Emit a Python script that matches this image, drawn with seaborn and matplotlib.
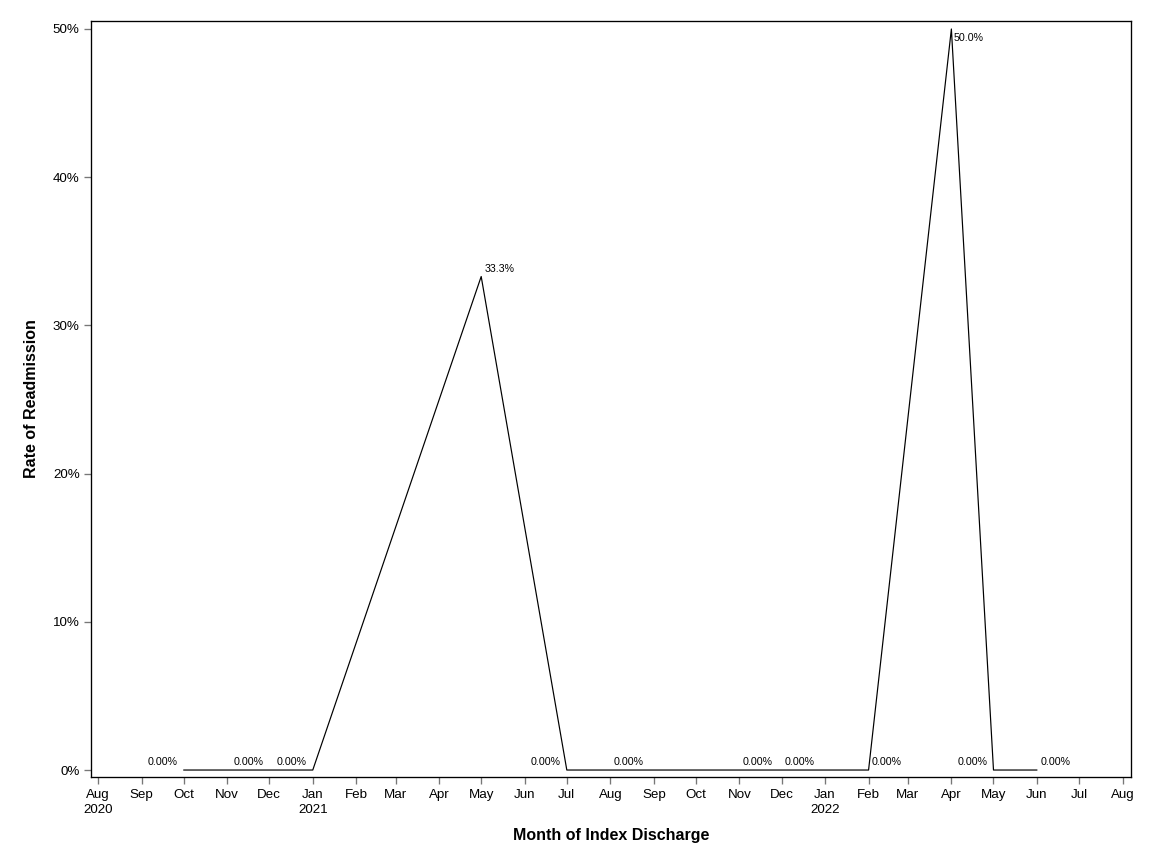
import matplotlib
matplotlib.use("Agg")
from matplotlib import pyplot as plt
from matplotlib.ticker import PercentFormatter
import numpy as np
import pandas as pd
import seaborn as sns

# monthly readmission rate by month of index discharge
months = ["2020-10", "2020-12", "2021-01", "2021-05", "2021-07", "2021-08",
          "2021-11", "2021-12", "2022-02", "2022-04", "2022-05", "2022-06"]
rates = [0.0, 0.0, 0.0, 0.333, 0.0, 0.0, 0.0, 0.0, 0.0, 0.5, 0.0, 0.0]
# which side of the point the value label sits on
label_side = ["left", "left", "left", "right", "left", "right",
              "right", "right", "right", "below", "left", "right"]

tick_months = pd.date_range("2020-08-01", "2022-08-01", freq="MS")

df = pd.DataFrame({"month": pd.to_datetime(months), "rate": rates})

sns.set_style("white")
plt.rcParams["font.family"] = ["Liberation Sans", "DejaVu Sans"]
plt.rcParams["text.color"] = "black"
plt.rcParams["axes.labelcolor"] = "black"

fig = plt.figure(figsize=(12, 9), dpi=96)
ax = fig.add_axes([0.079, 0.1007, 0.9028, 0.875])

sns.lineplot(data=df, x="month", y="rate", color="black", linewidth=0.9, ax=ax)

for m, r, side in zip(df["month"], df["rate"], label_side):
    txt = "0.00%" if r == 0 else f"{r * 100:.1f}%"
    if side == "left":
        ax.annotate(txt, (m, r), xytext=(-4.5, 2), textcoords="offset points",
                    ha="right", va="bottom", fontsize=8, color="black")
    elif side == "right":
        ax.annotate(txt, (m, r), xytext=(2.5, 2), textcoords="offset points",
                    ha="left", va="bottom", fontsize=8, color="black")
    else:
        ax.annotate(txt, (m, r), xytext=(2, -3), textcoords="offset points",
                    ha="left", va="top", fontsize=8, color="black")

ax.set_xlim(pd.Timestamp("2020-07-27"), pd.Timestamp("2022-08-07"))
ax.set_ylim(-0.0047, 0.5054)
ax.set_yticks([0, 0.1, 0.2, 0.3, 0.4, 0.5])
ax.yaxis.set_major_formatter(PercentFormatter(xmax=1, decimals=0))

ax.set_xticks(tick_months)
tlabels = []
for i, t in enumerate(tick_months):
    lab = t.strftime("%b")
    if i == 0 or t.month == 1:
        lab += "\n" + t.strftime("%Y")
    tlabels.append(lab)
ax.set_xticklabels(tlabels, linespacing=1.3)

ax.tick_params(axis="both", which="major", bottom=True, left=True,
               length=5, width=1, color="#777777", labelsize=10,
               labelcolor="black", direction="out")
ax.tick_params(axis="x", pad=4)

for s in ax.spines.values():
    s.set_color("black")
    s.set_linewidth(1)

ax.set_xlabel("Month of Index Discharge", fontsize=12, fontweight="bold", labelpad=9)
ax.set_ylabel("Rate of Readmission", fontsize=12, fontweight="bold", labelpad=10)

fig.savefig("out.png", dpi=96)
